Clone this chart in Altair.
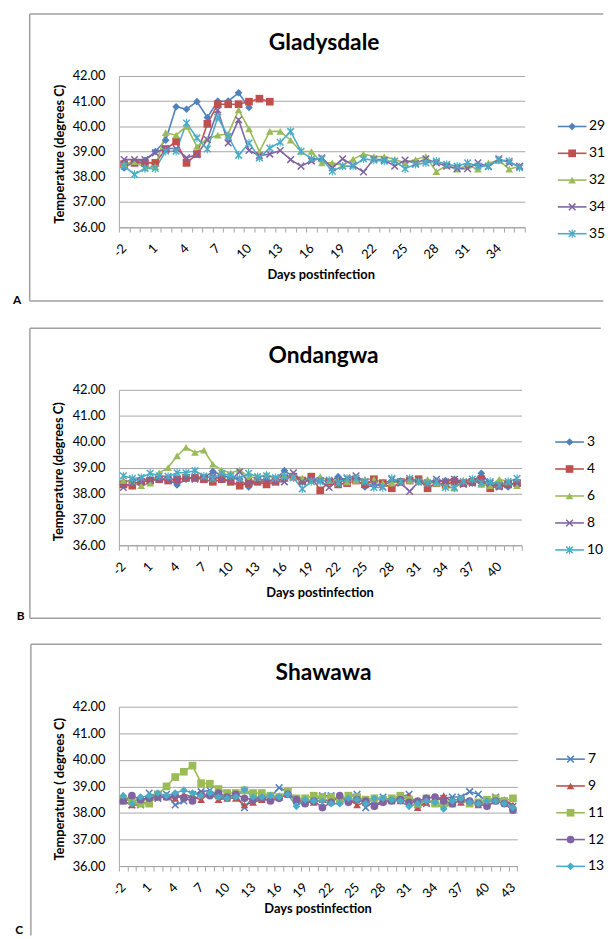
import altair as alt
import pandas as pd

FONT = "Lato"
COLORS = ["#4F81BD", "#C0504D", "#9BBB59", "#8064A2", "#4BACC6"]
GRID = "#A6A6A6"
BORDER = "#A0A0A0"

X_SHAPE = ("M-1,-0.72L-0.72,-1L0,-0.28L0.72,-1L1,-0.72L0.28,0L1,0.72L0.72,1"
           "L0,0.28L-0.72,1L-1,0.72L-0.28,0Z")
STAR_SHAPE = X_SHAPE + "M-0.14,-1.1L0.14,-1.1L0.14,1.1L-0.14,1.1Z"

# ---------------- Panel A : Gladysdale ----------------
days_a = list(range(-2, 37))
names_a = ["29", "31", "32", "34", "35"]
a_29 = [38.35, 38.6, 38.65, 39.0, 39.45, 40.78, 40.68, 40.98, 40.35, 41.0, 41.0, 41.33, 40.75]
a_31 = [38.5, 38.55, 38.55, 38.55, 39.1, 39.4, 38.55, 38.9, 40.1, 40.88, 40.88, 40.88, 40.98, 41.1, 40.98]
a_32 = [38.5, 38.6, 38.35, 38.4, 39.75, 39.65, 40.0, 39.2, 39.5, 39.65, 39.7, 40.65, 39.9, 39.0,
        39.8, 39.8, 39.45, 39.0, 39.0, 38.55, 38.55, 38.45, 38.7, 38.9, 38.8, 38.8, 38.68, 38.55,
        38.68, 38.8, 38.2, 38.45, 38.3, 38.45, 38.3, 38.55, 38.65, 38.3, 38.42]
a_34 = [38.68, 38.68, 38.68, 38.95, 39.12, 39.12, 38.75, 38.88, 39.47, 40.65, 39.34, 40.26, 39.04,
        38.84, 38.9, 39.04, 38.68, 38.42, 38.62, 38.75, 38.35, 38.71, 38.45, 38.19, 38.7, 38.66,
        38.42, 38.66, 38.53, 38.71, 38.55, 38.42, 38.32, 38.32, 38.55, 38.4, 38.71, 38.55, 38.42]
a_35 = [38.42, 38.09, 38.33, 38.33, 39.01, 39.01, 40.13, 39.54, 39.1, 40.36, 39.6, 38.85, 39.34,
        38.75, 39.14, 39.37, 39.8, 39.01, 38.71, 38.71, 38.22, 38.42, 38.42, 38.71, 38.66, 38.62,
        38.62, 38.32, 38.49, 38.55, 38.62, 38.49, 38.42, 38.55, 38.42, 38.42, 38.66, 38.62, 38.36]
shapes_a = ["diamond", "square", "triangle-up", X_SHAPE, STAR_SHAPE]

# ---------------- Panel B : Ondangwa ----------------
days_b = list(range(-2, 43))
names_b = ["3", "4", "6", "8", "10"]
b_3 = [38.45, 38.5, 38.55, 38.55, 38.6, 38.55, 38.33, 38.55, 38.65, 38.6, 38.85, 38.7, 38.6, 38.55,
       38.25, 38.5, 38.45, 38.55, 38.88, 38.65, 38.45, 38.5, 38.55, 38.45, 38.65, 38.5, 38.55, 38.25,
       38.3, 38.4, 38.5, 38.45, 38.55, 38.5, 38.4, 38.45, 38.5, 38.55, 38.45, 38.4, 38.78, 38.35,
       38.3, 38.25, 38.45]
b_4 = [38.35, 38.3, 38.45, 38.5, 38.55, 38.5, 38.55, 38.6, 38.6, 38.55, 38.45, 38.55, 38.45, 38.3,
       38.4, 38.45, 38.35, 38.45, 38.6, 38.65, 38.5, 38.65, 38.12, 38.45, 38.35, 38.4, 38.5, 38.35,
       38.55, 38.4, 38.2, 38.45, 38.5, 38.55, 38.2, 38.4, 38.35, 38.45, 38.4, 38.45, 38.55, 38.2,
       38.3, 38.35, 38.4]
b_6 = [38.5, 38.45, 38.3, 38.4, 38.8, 39.0, 39.45, 39.78, 39.58, 39.67, 39.13, 38.9, 38.8, 38.9,
       38.65, 38.6, 38.75, 38.6, 38.7, 38.65, 38.6, 38.5, 38.65, 38.5, 38.5, 38.45, 38.5, 38.55,
       38.55, 38.4, 38.4, 38.45, 38.5, 38.45, 38.55, 38.4, 38.3, 38.2, 38.5, 38.55, 38.35, 38.3,
       38.55, 38.45, 38.3]
b_8 = [38.23, 38.4, 38.45, 38.5, 38.55, 38.55, 38.55, 38.6, 38.55, 38.6, 38.65, 38.55, 38.5, 38.84,
       38.45, 38.5, 38.55, 38.45, 38.45, 38.8, 38.45, 38.55, 38.5, 38.23, 38.5, 38.6, 38.68, 38.45,
       38.4, 38.25, 38.55, 38.4, 38.08, 38.45, 38.4, 38.55, 38.45, 38.55, 38.35, 38.4, 38.5, 38.4,
       38.25, 38.35, 38.4]
b_10 = [38.68, 38.58, 38.62, 38.78, 38.68, 38.66, 38.8, 38.8, 38.88, 38.67, 38.58, 38.78, 38.68,
        38.58, 38.78, 38.65, 38.68, 38.61, 38.65, 38.61, 38.18, 38.46, 38.46, 38.52, 38.4, 38.58,
        38.58, 38.46, 38.23, 38.23, 38.58, 38.46, 38.58, 38.46, 38.4, 38.46, 38.23, 38.23, 38.46,
        38.56, 38.4, 38.46, 38.33, 38.46, 38.58]
shapes_b = ["diamond", "square", "triangle-up", X_SHAPE, STAR_SHAPE]

# ---------------- Panel C : Shawawa ----------------
days_c = list(range(-2, 44))
names_c = ["7", "9", "11", "12", "13"]
c_7 = [38.45, 38.3, 38.3, 38.75, 38.55, 38.7, 38.3, 38.45, 38.7, 38.8, 38.85, 38.65, 38.6, 38.7,
       38.2, 38.6, 38.55, 38.6, 38.95, 38.8, 38.45, 38.45, 38.45, 38.65, 38.65, 38.45, 38.65, 38.7,
       38.2, 38.45, 38.6, 38.45, 38.6, 38.7, 38.3, 38.35, 38.5, 38.55, 38.6, 38.6, 38.8, 38.7,
       38.4, 38.6, 38.45, 38.25]
c_9 = [38.45, 38.3, 38.35, 38.4, 38.6, 38.6, 38.55, 38.7, 38.6, 38.5, 38.75, 38.5, 38.55, 38.55,
       38.3, 38.4, 38.5, 38.5, 38.65, 38.7, 38.5, 38.45, 38.4, 38.5, 38.45, 38.55, 38.5, 38.3,
       38.4, 38.3, 38.45, 38.5, 38.45, 38.65, 38.2, 38.4, 38.45, 38.65, 38.4, 38.4, 38.45, 38.3,
       38.45, 38.45, 38.5, 38.3]
c_11 = [38.5, 38.45, 38.35, 38.35, 38.7, 39.0, 39.35, 39.55, 39.78, 39.12, 39.1, 38.9, 38.75, 38.75,
        38.85, 38.75, 38.75, 38.65, 38.6, 38.8, 38.55, 38.55, 38.65, 38.6, 38.6, 38.5, 38.65, 38.6,
        38.5, 38.55, 38.5, 38.55, 38.65, 38.5, 38.35, 38.55, 38.35, 38.35, 38.35, 38.5, 38.35, 38.4,
        38.5, 38.55, 38.45, 38.55]
c_12 = [38.45, 38.65, 38.5, 38.55, 38.6, 38.6, 38.65, 38.55, 38.45, 38.7, 38.65, 38.75, 38.6, 38.7,
        38.55, 38.5, 38.55, 38.45, 38.55, 38.7, 38.5, 38.35, 38.45, 38.2, 38.4, 38.65, 38.4, 38.5,
        38.45, 38.25, 38.4, 38.45, 38.5, 38.4, 38.45, 38.55, 38.6, 38.45, 38.35, 38.5, 38.45, 38.35,
        38.25, 38.45, 38.35, 38.1]
c_13 = [38.65, 38.35, 38.6, 38.65, 38.75, 38.65, 38.75, 38.85, 38.75, 38.65, 38.75, 38.6, 38.55,
        38.6, 38.88, 38.6, 38.6, 38.65, 38.6, 38.7, 38.25, 38.5, 38.45, 38.45, 38.35, 38.35, 38.55,
        38.5, 38.35, 38.55, 38.55, 38.5, 38.45, 38.25, 38.35, 38.45, 38.4, 38.15, 38.45, 38.55,
        38.4, 38.35, 38.45, 38.45, 38.35, 38.2]
shapes_c = [X_SHAPE, "triangle-up", "square", "circle", "diamond"]

y_ticks = [36, 37, 38, 39, 40, 41, 42]

PANELS = [
    dict(title="Gladysdale", letter="A", ytitle="Temperature (degrees C)",
         days=days_a, names=names_a, values=[a_29, a_31, a_32, a_34, a_35], shapes=shapes_a,
         w=410, h=152.6, ext=(-108.7, -63.7, 239.3), border=(-90.1, -62.7, 227.3, 489.3),
         tpos=(207.3, -33.7), lpos=(-102.7, 225.8), ypos=(-59.2, 79), xpos=(204.3, 200.6),
         leg=(443.3, 472.3, 457.8, 474.8, 51, 159.3)),
    dict(title="Ondangwa", letter="B", ytitle="Temperature (degrees C)",
         days=days_b, names=names_b, values=[b_3, b_4, b_6, b_8, b_10], shapes=shapes_b,
         w=406.7, h=157, ext=(-111.3, -76.3, 243.7), border=(-89.9, -62.3, 230.7, 486.7),
         tpos=(206.7, -34.6), lpos=(-99.3, 228.7), ypos=(-60.5, 82.7), xpos=(203.2, 205.4),
         leg=(440.7, 469.7, 455.2, 472.7, 52.7, 161.7)),
    dict(title="Shawawa", letter="C", ytitle="Temperature ( degrees C)",
         days=days_c, names=names_c, values=[c_7, c_9, c_11, c_12, c_13], shapes=shapes_c,
         w=402.4, h=161, ext=(-110.3, -76, 231), border=(-88.9, -63, None, 487.7),
         tpos=(206.7, -34.3), lpos=(-100.7, 225.5), ypos=(-59.5, 83.5), xpos=(201.2, 204.7),
         leg=(441.7, 470.7, 456.2, 473.7, 53, 161.3)),
]


def build_panel(p):
    days = p["days"]
    rows = []
    for name, vals in zip(p["names"], p["values"]):
        for d, v in zip(days, vals):
            rows.append({"day": d, "series": name, "temp": v})
    df = pd.DataFrame(rows)
    names = p["names"]
    deco = pd.DataFrame({"k": [0]})

    color_enc = alt.Color("series:N", scale=alt.Scale(domain=names, range=COLORS), legend=None)
    shape_enc = alt.Shape("series:N", scale=alt.Scale(domain=names, range=p["shapes"]), legend=None)

    x_axis = alt.Axis(
        title=None, labelExpr="(datum.value + 2) % 3 == 0 ? datum.label : ''",
        labelAngle=315, labelAlign="right", labelBaseline="middle", labelFontSize=13,
        labelColor="#000000", labelPadding=14, labelOverlap=False, tickBand="extent",
        ticks=True, tickSize=5, tickColor=GRID, domainColor=GRID, grid=False, labelFont=FONT)
    x_enc = alt.X("day:O", scale=alt.Scale(type="band", domain=days, paddingInner=0, paddingOuter=0),
                  bandPosition=0.5, axis=x_axis)
    y_scale = alt.Scale(domain=[36, 42], nice=False, zero=False)
    y_axis = alt.Axis(title=None, values=y_ticks, format=".2f", grid=True, gridColor=GRID,
                      domainColor=GRID, ticks=False, labelPadding=14, labelFontSize=13,
                      labelColor="#000000", labelFont=FONT)

    lines = alt.Chart(df).mark_line(strokeWidth=1.6).encode(
        x=x_enc, y=alt.Y("temp:Q", scale=y_scale, axis=y_axis), color=color_enc)
    points = alt.Chart(df).mark_point(filled=True, size=60, opacity=1, strokeWidth=0).encode(
        x=x_enc, y=alt.Y("temp:Q", scale=y_scale, axis=y_axis), color=color_enc, shape=shape_enc)
    main = alt.layer(lines, points)

    lx1, lx2, lxm, ltx, ly0, ly1 = p["leg"]
    leg_df = pd.DataFrame({"series": names})
    ly_enc = alt.Y("series:N", scale=alt.Scale(type="point", domain=names, range=[ly0, ly1], padding=0),
                   axis=None)
    leg_rule = alt.Chart(leg_df).mark_rule(strokeWidth=1.6).encode(
        x=alt.value(lx1), x2=alt.value(lx2), y=ly_enc, color=color_enc)
    leg_pt = alt.Chart(leg_df).mark_point(filled=True, size=60, opacity=1, strokeWidth=0).encode(
        x=alt.value(lxm), y=ly_enc, color=color_enc, shape=shape_enc)
    leg_txt = alt.Chart(leg_df).mark_text(align="left", baseline="middle", fontSize=14,
                                          color="#000000", font=FONT).encode(
        x=alt.value(ltx), y=ly_enc, text="series:N")
    legend = alt.layer(leg_rule, leg_pt, leg_txt)

    ex, ey0, ey1 = p["ext"]
    extent = alt.Chart(deco).mark_rule(strokeOpacity=0, strokeWidth=1).encode(
        x=alt.value(ex), y=alt.value(ey0), y2=alt.value(ey1))
    bx, by0, by1, bright = p["border"]
    left_bottom = by1 if by1 is not None else ey1
    decos = [extent,
             alt.Chart(deco).mark_rule(color=BORDER, strokeWidth=1.5).encode(
                 x=alt.value(bx), y=alt.value(by0), y2=alt.value(left_bottom)),
             alt.Chart(deco).mark_rule(color=BORDER, strokeWidth=1.5).encode(
                 x=alt.value(bx), x2=alt.value(bright), y=alt.value(by0))]
    if by1 is not None:
        decos.append(alt.Chart(deco).mark_rule(color=BORDER, strokeWidth=1.5).encode(
            x=alt.value(bx), x2=alt.value(bright), y=alt.value(by1)))

    tx, ty = p["tpos"]
    decos.append(alt.Chart(deco).mark_text(text=p["title"], fontSize=23, fontWeight="bold",
                                           align="center", baseline="middle", font=FONT,
                                           color="#000000").encode(
        x=alt.value(tx), y=alt.value(ty)))
    lxp, lyp = p["lpos"]
    decos.append(alt.Chart(deco).mark_text(text=p["letter"], fontSize=12, fontWeight="bold",
                                           align="center", baseline="middle", font=FONT,
                                           color="#000000").encode(
        x=alt.value(lxp), y=alt.value(lyp)))
    yx, yy = p["ypos"]
    decos.append(alt.Chart(deco).mark_text(text=p["ytitle"], fontSize=13, fontWeight="bold",
                                           align="center", baseline="middle", angle=270,
                                           font=FONT, color="#000000").encode(
        x=alt.value(yx), y=alt.value(yy)))
    xx, xy = p["xpos"]
    decos.append(alt.Chart(deco).mark_text(text="Days postinfection", fontSize=13,
                                           fontWeight="bold", align="center", baseline="middle",
                                           font=FONT, color="#000000").encode(
        x=alt.value(xx), y=alt.value(xy)))

    chart = alt.layer(*decos, main, legend).resolve_scale(y="independent").properties(
        width=p["w"], height=p["h"])
    return chart


panels = [build_panel(p) for p in PANELS]
chart = alt.vconcat(*panels, spacing=0).resolve_scale(
    color="independent", shape="independent", x="independent", y="independent"
).properties(
    padding=0, background="white"
).configure(font=FONT).configure_view(strokeWidth=0)

chart.save("out.html", embed_options={"renderer": "svg", "actions": False})
